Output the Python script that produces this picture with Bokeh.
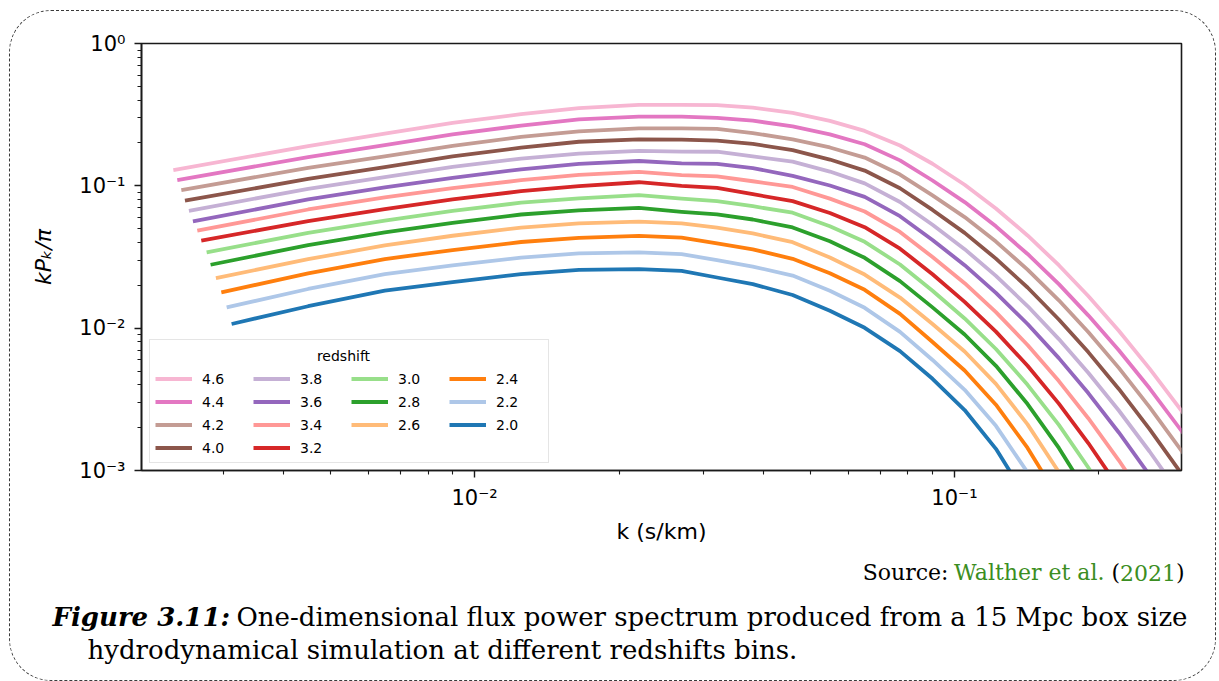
from bokeh.plotting import figure
from bokeh.layouts import column
from bokeh.models import (Range1d, FixedTicker, CustomJSTickFormatter, Legend, LegendItem, Label)
from bokeh.embed import file_html
from bokeh.resources import INLINE

# ---------------- data ----------------
redshifts = ["4.6", "4.4", "4.2", "4.0", "3.8", "3.6", "3.4",
             "3.2", "3.0", "2.8", "2.6", "2.4", "2.2", "2.0"]
colors = ["#f7b6d2", "#e377c2", "#c49c94", "#8c564b", "#c5b0d5", "#9467bd", "#ff9896",
          "#d62728", "#98df8a", "#2ca02c", "#ffbb78", "#ff7f0e", "#aec7e8", "#1f77b4"]

# first (lowest-k) sample of every curve
k_first = [0.002357, 0.002402, 0.002449, 0.002492, 0.00254, 0.002589, 0.002644,
           0.002695, 0.002765, 0.002818, 0.002891, 0.002967, 0.003044, 0.003117]
p_first = [0.1291, 0.1098, 0.0934, 0.0786, 0.0668, 0.0562, 0.0484,
           0.0412, 0.0341, 0.0279, 0.0225, 0.01784, 0.0140, 0.0107]

# common k samples (s/km)
k_grid = [0.0045, 0.0065, 0.009, 0.0125, 0.0165, 0.022, 0.027, 0.032, 0.038, 0.046, 0.055,
          0.065, 0.077, 0.09, 0.105, 0.122, 0.142, 0.165, 0.19, 0.22, 0.255, 0.3]

# kP_k/pi at k_grid (None = beyond the bottom of the axes)
P_z46 = [0.190, 0.233, 0.2765, 0.319, 0.351, 0.371, 0.371, 0.369, 0.354, 0.325, 0.286,
         0.243, 0.192, 0.143, 0.1018, 0.0693, 0.0448, 0.0277, 0.01683, 0.0096, 0.0052, 0.00252]
P_z44 = [0.159, 0.193, 0.230, 0.265, 0.293, 0.306, 0.306, 0.300, 0.287, 0.262, 0.230,
         0.196, 0.151, 0.109, 0.0769, 0.0519, 0.0332, 0.0204, 0.0123, 0.0070, 0.00378, 0.00182]
P_z42 = [0.1336, 0.161, 0.191, 0.2205, 0.241, 0.253, 0.253, 0.251, 0.235, 0.212, 0.186,
         0.158, 0.120, 0.0856, 0.0603, 0.0406, 0.0258, 0.0157, 0.0094, 0.00526, 0.00279, 0.00132]
P_z40 = [0.112, 0.1355, 0.161, 0.1855, 0.204, 0.212, 0.211, 0.208, 0.197, 0.178, 0.153,
         0.128, 0.0962, 0.0677, 0.0467, 0.0308, 0.0193, 0.0115, 0.00679, 0.00374, 0.00195, 0.000909]
P_z38 = [0.0953, 0.1151, 0.1357, 0.1555, 0.1686, 0.176, 0.174, 0.1736, 0.161, 0.148, 0.126,
         0.104, 0.0770, 0.0533, 0.0359, 0.0233, 0.0143, 0.00838, 0.00486, 0.00264, 0.00136, 0.000626]
P_z36 = [0.0802, 0.0975, 0.1138, 0.1306, 0.1425, 0.1494, 0.1437, 0.1425, 0.1334, 0.1175, 0.1005,
         0.0836, 0.0612, 0.0416, 0.0277, 0.0177, 0.0107, 0.00616, 0.0035, 0.00185, 0.000927, None]
P_z34 = [0.0682, 0.0829, 0.0963, 0.1095, 0.1195, 0.1254, 0.1191, 0.1166, 0.1077, 0.0982, 0.0813,
         0.0660, 0.0474, 0.0316, 0.0207, 0.01295, 0.00762, 0.00425, 0.00233, 0.00118, 0.000562, None]
P_z32 = [0.0565, 0.0687, 0.0803, 0.0917, 0.0995, 0.1060, 0.1000, 0.0968, 0.0873, 0.0781, 0.0645,
         0.0512, 0.0362, 0.0239, 0.0153, 0.00945, 0.00544, 0.00295, 0.00156, 0.000757, None, None]
P_z30 = [0.0468, 0.0569, 0.0667, 0.0761, 0.0817, 0.0860, 0.0814, 0.0781, 0.0719, 0.0647, 0.0520,
         0.0404, 0.0280, 0.0183, 0.0117, 0.00714, 0.0040, 0.00209, 0.00105, 0.000481, None, None]
P_z28 = [0.0383, 0.0471, 0.0550, 0.0629, 0.0673, 0.0700, 0.0657, 0.0630, 0.0580, 0.0510, 0.0408,
         0.0312, 0.0214, 0.0140, 0.00903, 0.00544, 0.00293, 0.00144, 0.000673, None, None, None]
P_z26 = [0.0305, 0.0382, 0.0446, 0.0509, 0.0544, 0.0561, 0.0544, 0.0509, 0.0463, 0.0402, 0.0314,
         0.0238, 0.0164, 0.0107, 0.00686, 0.00406, 0.00211, 0.000975, 0.00042, None, None, None]
P_z24 = [0.0243, 0.0306, 0.0354, 0.0403, 0.0431, 0.0445, 0.0433, 0.0394, 0.0358, 0.0307, 0.0243,
         0.0186, 0.0126, 0.0080, 0.00504, 0.0029, 0.00144, 0.000632, None, None, None, None]
P_z22 = [0.01885, 0.0240, 0.0276, 0.0313, 0.0335, 0.0341, 0.0331, 0.0301, 0.0271, 0.0234, 0.0183,
         0.0139, 0.00942, 0.00598, 0.00369, 0.00206, 0.00097, 0.00039, None, None, None, None]
P_z20 = [0.01426, 0.01833, 0.0211, 0.0240, 0.0257, 0.0260, 0.0253, 0.0227, 0.0204, 0.0171, 0.01325,
         0.01006, 0.0069, 0.00441, 0.00266, 0.00142, 0.000624, None, None, None, None, None]

series_P = [P_z46, P_z44, P_z42, P_z40, P_z38, P_z36, P_z34,
            P_z32, P_z30, P_z28, P_z26, P_z24, P_z22, P_z20]

y_ticks = [0.001, 0.01, 0.1, 1.0]
x_ticks = [0.01, 0.1]

# ---------------- layout constants (window pixels) ----------------
OX, OY = 10, 11                 # top-left of the content inside the dashed page frame
CW = 1205                       # content width
SPLIT = 550                     # window y where the chart ends and the caption starts
BOTTOM = 680                    # window y of the bottom of the content
FX0, FX1, FY0, FY1 = 141, 1181, 43, 470   # plot frame in window pixels

H1 = SPLIT - OY
p = figure(width=CW, height=H1, x_axis_type="log", y_axis_type="log",
           x_range=Range1d(0.002023, 0.2972), y_range=Range1d(0.001, 1.0),
           output_backend="svg", toolbar_location=None,
           min_border_left=FX0 - OX, min_border_right=OX + CW - FX1,
           min_border_top=FY0 - OY, min_border_bottom=SPLIT - FY1)
p.background_fill_color = "white"
p.border_fill_color = None
p.outline_line_color = "#1a1a1a"
p.outline_line_width = 1.6
p.xgrid.visible = False
p.ygrid.visible = False

sup_fmt = CustomJSTickFormatter(code="""
const e = Math.round(Math.log10(tick));
const m = {"-": "\u207b", "0": "\u2070", "1": "\u00b9", "2": "\u00b2", "3": "\u00b3",
           "4": "\u2074", "5": "\u2075", "6": "\u2076", "7": "\u2077", "8": "\u2078", "9": "\u2079"};
return "10" + String(e).split("").map(c => m[c] || c).join("");
""")

minor_x = [m * 10.0 ** e for e in (-3, -2, -1) for m in range(2, 10)]
minor_y = [m * 10.0 ** e for e in (-3, -2, -1) for m in range(2, 10)]
p.xaxis.ticker = FixedTicker(ticks=x_ticks, minor_ticks=minor_x)
p.yaxis.ticker = FixedTicker(ticks=y_ticks, minor_ticks=minor_y)

for ax in (p.xaxis[0], p.yaxis[0]):
    ax.formatter = sup_fmt
    ax.axis_line_color = "#1a1a1a"
    ax.axis_line_width = 1.6
    ax.major_tick_line_color = "#1a1a1a"
    ax.major_tick_line_width = 1.4
    ax.minor_tick_line_color = "#1a1a1a"
    ax.minor_tick_line_width = 1.1
    ax.major_tick_in = 0
    ax.major_tick_out = 7
    ax.minor_tick_in = 0
    ax.minor_tick_out = 4
    ax.major_label_text_font = "DejaVu Sans"
    ax.major_label_text_font_size = "21px"
    ax.major_label_text_color = "black"
    ax.axis_label_text_font = "DejaVu Sans"
    ax.axis_label_text_font_size = "22px"
    ax.axis_label_text_color = "black"

p.xaxis.axis_label = "k (s/km)"
p.xaxis.axis_label_text_font_style = "normal"
p.xaxis.major_label_standoff = 8
p.xaxis.axis_label_standoff = 6
p.yaxis.axis_label = "kP\u2096/\u03c0"
p.yaxis.axis_label_text_font_style = "italic"
p.yaxis.major_label_standoff = 9
p.yaxis.axis_label_standoff = 20

# ---------------- curves ----------------
rend = {}
for z, c, k0, p0, P in zip(redshifts, colors, k_first, p_first, series_P):
    ks = [k0] + [k for k, v in zip(k_grid, P) if v is not None]
    ps = [p0] + [v for v in P if v is not None]
    rend[z] = p.line(ks, ps, line_color=c, line_width=3.8, line_join="round")

blank1 = p.line([], [], line_alpha=0)
blank2 = p.line([], [], line_alpha=0)
order = ["4.6", "4.4", "4.2", "4.0", "3.8", "3.6", "3.4", "3.2", "3.0", "2.8", "2.6", None,
         "2.4", "2.2", "2.0", None]
items = []
blanks = [blank1, blank2]
for z in order:
    if z is None:
        items.append(LegendItem(label=" ", renderers=[blanks.pop(0)]))
    else:
        items.append(LegendItem(label=z, renderers=[rend[z]]))

leg = Legend(items=items, ncols=4, location=(8, 7), title=" ",
             label_text_font="DejaVu Sans", label_text_font_size="14px", label_text_color="black",
             glyph_width=37, glyph_height=19, label_height=19, label_standoff=10, label_width=47,
             spacing=4, padding=5, margin=0,
             border_line_color="#cccccc", border_line_width=1,
             background_fill_color="white", background_fill_alpha=0.0,
             title_text_font="DejaVu Sans", title_text_font_size="14px", title_standoff=8)
p.add_layout(leg)
p.add_layout(Label(x=343 - FX0, y=FY1 - 355, x_units="screen", y_units="screen",
                   text="redshift", text_font="DejaVu Sans", text_font_size="14px",
                   text_color="black", text_align="center", text_baseline="middle",
                   level="overlay"))

# ---------------- caption canvas ----------------
H2 = BOTTOM - SPLIT
cap = figure(width=CW, height=H2, x_range=Range1d(0, CW), y_range=Range1d(H2, 0),
             output_backend="svg", toolbar_location=None,
             x_axis_location=None, y_axis_location=None,
             min_border=0, min_border_left=0, min_border_right=0,
             min_border_top=0, min_border_bottom=0)
cap.outline_line_color = None
cap.background_fill_color = None
cap.border_fill_color = None
cap.grid.visible = False
for fig in (p, cap):
    try:
        fig.frame_align = False
    except Exception:
        pass


def lab(text, X, Y, size, color="black", style="normal", align="left"):
    cap.add_layout(Label(x=X - OX, y=Y - SPLIT, text=text, text_font="DejaVu Serif",
                         text_font_size=size, text_color=color, text_font_style=style,
                         text_align=align, text_baseline="alphabetic"))


green = "#3b8e22"
# source line, chained from its right end
lab(")", 1184, 572, "22px", align="right")
lab("2021", 1175.5, 572, "22px", color=green, align="right")
lab("(", 1119.5, 572, "22px", align="right")
lab("Walther et al.", 1104, 572, "22px", color=green, align="right")
lab("Source:", 948, 572, "22px", align="right")

lab("Figure 3.11:", 52, 616, "26px", style="bold italic")
lab("One-dimensional flux power spectrum produced from a 15 Mpc box size", 236, 616, "26px")
lab("hydrodynamical simulation at different redshifts bins.", 87, 649, "26px")

page = column(p, cap, spacing=0)
page.margin = (OY - 1, 0, 0, OX - 1)
page.styles = {"border": "1px dashed #3a3a3a", "border-radius": "42px"}

open("out.html", "w", encoding="utf-8").write(file_html(page, INLINE))
